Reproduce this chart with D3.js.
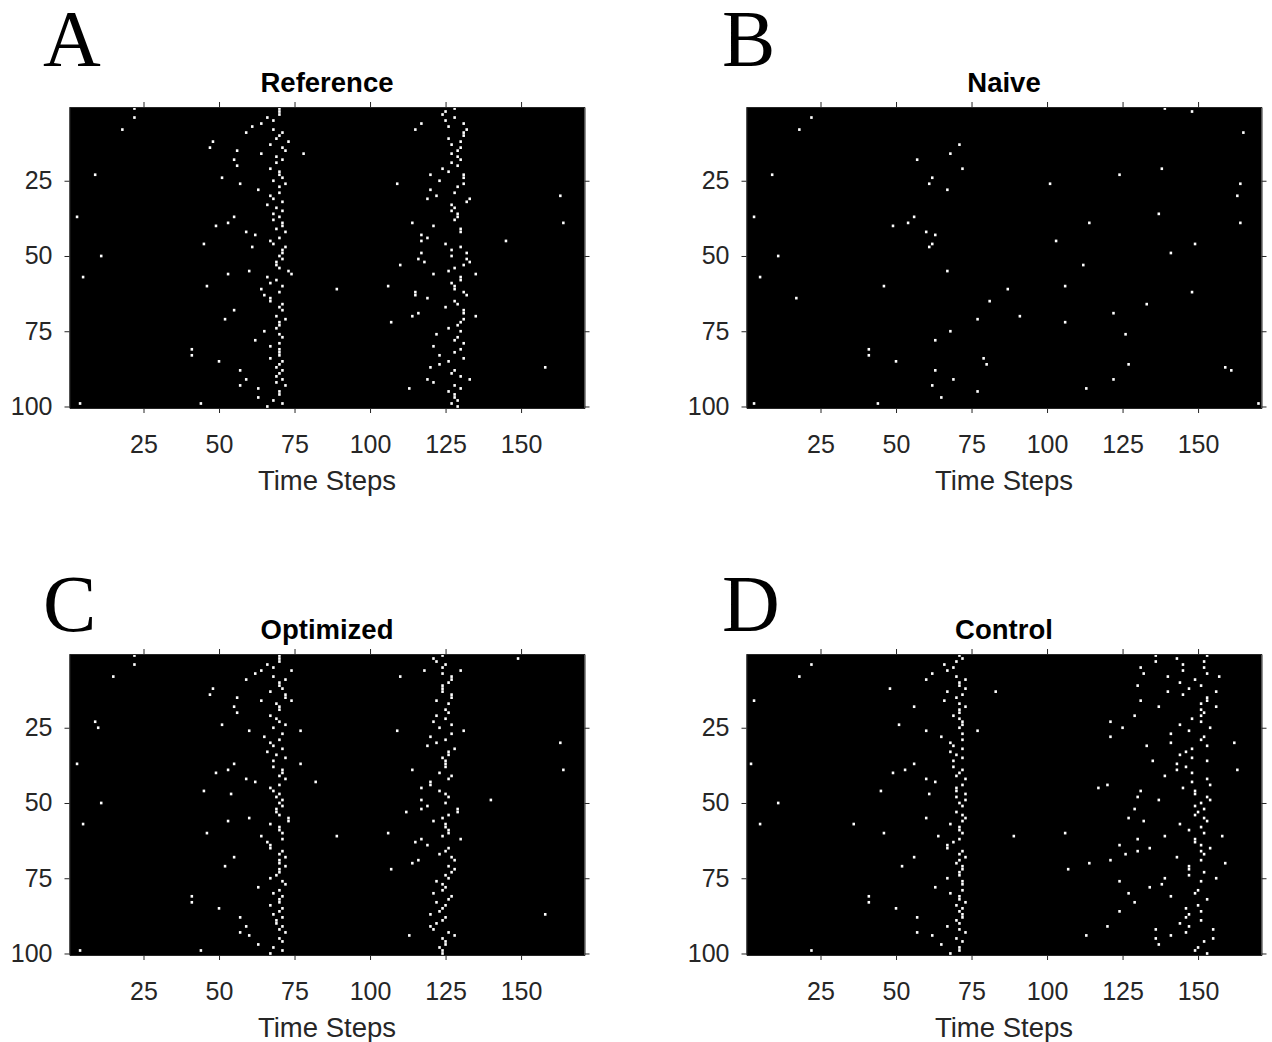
<!DOCTYPE html>
<html>
<head>
<meta charset="utf-8">
<script src="https://cdn.jsdelivr.net/npm/d3@7"></script>
<style>
body { margin: 0; background: #fff; }
svg text { font-family: "Liberation Sans", Arial, sans-serif; }
</style>
</head>
<body>
<svg id="chart"></svg>
<script>

// panel text
const panelLetters = ["A", "B", "C", "D"];
const panelTitles = ["Reference", "Naive", "Optimized", "Control"];
const xLabel = "Time Steps";
const xTicks = [25, 50, 75, 100, 125, 150];
const yTicks = [25, 50, 75, 100];

const referenceSpikes = [
  [22,1],[22,4],[18,8],[9,23],[3,37],[11,50],[5,57],[4,99],
  [48,12],[47,14],[56,15],[55,18],[56,20],[51,24],[57,26],[55,37],[53,39],[49,40],[45,46],[59,42],[62,43],[61,47],
  [53,56],[60,55],[46,60],[55,68],[52,71],[41,81],[41,83],[50,85],[57,88],[59,91],[57,93],[63,94],[63,97],[44,99],[66,100],
  [59,9],[61,7],[64,6],[66,4],[68,5],[68,8],[70,1],[70,2],[70,3],[71,9],[70,10],[69,11],[73,12],[67,13],[71,14],[72,15],
  [64,16],[69,17],[71,18],[69,19],[67,21],[70,22],[70,23],[71,24],[68,25],[72,26],[70,27],[63,28],[70,29],[67,30],[68,31],
  [71,32],[66,33],[69,34],[71,35],[68,36],[70,37],[68,38],[71,39],[71,40],[69,41],[72,42],[70,44],[67,45],[68,46],[72,47],
  [71,48],[71,49],[70,50],[71,51],[69,52],[69,53],[70,54],[73,55],[74,56],[66,57],[69,58],[67,59],[71,60],[64,61],[70,62],
  [65,63],[67,64],[67,65],[71,66],[70,67],[71,68],[69,70],[72,71],[70,72],[70,73],[69,74],[65,75],[70,76],[71,77],[62,78],
  [70,79],[67,80],[70,81],[70,82],[70,83],[67,84],[71,85],[70,86],[69,87],[71,88],[70,89],[69,90],[71,91],[69,92],[72,93],
  [70,95],[70,96],[68,98],[71,99],
  [78,16],[89,61],[109,26],[110,53],[106,60],[107,72],[113,94],[114,39],[115,8],[117,6],[115,62],[115,63],[114,70],[116,69],
  [117,43],[117,45],[119,44],[117,49],[116,51],[118,52],[120,23],[120,28],[119,31],[122,30],[123,25],[121,40],[121,56],
  [119,64],[122,76],[121,80],[123,83],[123,86],[120,87],[119,91],[121,92],[124,21],[126,22],[125,46],[126,55],[125,67],
  [126,74],[126,85],[126,95],
  [124,3],[125,2],[128,1],[128,4],[125,5],[126,7],[131,6],[132,8],[131,9],[131,10],[126,11],[130,12],[127,13],[130,14],
  [129,15],[127,16],[129,17],[130,18],[127,19],[129,20],[131,23],[131,24],[131,26],[129,27],[128,29],[133,31],[132,32],
  [127,33],[128,34],[127,35],[129,36],[129,37],[128,38],[130,41],[130,42],[130,47],[127,48],[132,49],[127,50],[132,51],
  [133,52],[131,53],[128,54],[135,56],[130,57],[130,58],[127,59],[128,60],[128,61],[131,62],[132,63],[128,65],[129,66],
  [131,68],[131,69],[135,70],[131,71],[130,72],[129,73],[130,75],[129,77],[128,78],[131,79],[130,81],[128,82],[131,84],
  [128,88],[127,89],[130,90],[133,91],[128,93],[130,94],[128,96],[128,97],[129,98],[127,99],[129,100],
  [145,45],[163,30],[164,39],[158,87]
];

const naiveSpikes = [
  [22,4],[18,8],[9,23],[3,37],[11,50],[5,57],[17,64],[3,99],[44,99],[41,81],[41,83],[50,85],[46,60],[49,40],[54,39],
  [56,37],[60,42],[63,43],[62,46],[61,47],[57,18],[62,24],[61,26],[67,28],[68,16],[71,13],[72,21],[67,55],[63,78],[68,75],
  [63,88],[62,93],[69,91],[65,97],[77,71],[77,95],
  [81,65],[79,84],[80,86],[87,61],[91,70],[101,26],[103,45],[106,60],[106,72],[112,53],[114,39],[113,94],[122,69],[122,91],
  [126,76],[127,86],[133,66],[124,23],[138,21],[137,36],[141,49],[139,1],[148,2],[149,46],[148,62],[159,87],[161,88],
  [165,9],[164,26],[163,30],[164,39],[170,99]
];

const optimizedSpikes = [
  [22,1],[22,4],[15,8],[9,23],[10,25],[3,37],[11,50],[5,57],[4,99],[44,99],[41,81],[41,83],[50,85],
  [48,12],[47,14],[56,15],[55,18],[56,20],[51,24],[60,26],[55,37],[53,39],[49,40],[45,46],[54,47],[59,42],[62,43],[53,56],
  [60,55],[46,60],[55,68],[52,71],[57,88],[59,91],[57,93],[60,94],[63,78],[63,97],[67,100],[68,98],[71,99],
  [59,9],[62,7],[64,6],[66,4],[68,5],[68,8],[70,1],[70,2],[70,3],[74,6],[72,9],[70,10],[70,11],[71,12],[67,13],[72,14],
  [72,15],[64,16],[74,16],[69,17],[70,18],[70,19],[67,21],[69,22],[70,23],[72,24],[68,25],[77,26],[71,27],[65,28],[70,29],
  [67,30],[68,31],[71,32],[66,33],[69,34],[72,35],[68,36],[77,37],[68,38],[71,39],[71,40],[70,41],[72,42],[70,44],[67,45],
  [68,46],[70,47],[69,48],[71,49],[70,50],[71,51],[69,52],[69,53],[70,54],[73,55],[73,56],[67,57],[70,58],[70,59],[71,60],
  [64,61],[71,62],[66,63],[67,64],[67,65],[71,66],[70,67],[72,68],[70,69],[70,70],[72,71],[70,72],[70,73],[69,74],[67,75],
  [71,76],[72,77],[70,79],[68,80],[71,81],[70,82],[70,83],[67,84],[71,85],[70,86],[68,87],[71,88],[69,89],[69,90],[71,91],
  [70,92],[72,93],[70,95],[71,96],
  [82,43],[89,61],[109,26],[110,8],[106,60],[107,72],[113,94],[112,53],[114,39],[115,63],[117,62],[114,70],[116,69],
  [117,45],[117,49],[117,52],[119,51],[118,6],[119,64],[120,28],[119,31],[122,30],[120,43],[120,44],[121,56],[123,25],
  [121,23],[122,21],[122,16],[121,2],[122,3],[124,1],[125,4],[124,5],[124,7],[127,8],[127,9],[126,10],[124,11],[124,12],
  [124,13],[127,14],[127,15],[126,17],[125,19],[126,20],[125,22],[127,24],[131,26],[127,27],[125,29],[128,32],[126,33],
  [126,34],[124,35],[125,36],[125,37],[125,38],[123,40],[127,41],[126,42],[123,46],[125,47],[126,48],[125,50],[129,52],
  [129,53],[126,54],[124,55],[125,57],[125,58],[126,59],[126,60],[124,61],[130,62],[126,65],[125,66],[123,67],[127,68],
  [128,69],[126,71],[128,72],[127,73],[125,74],[126,75],[122,76],[124,77],[125,78],[124,79],[121,80],[127,81],[126,82],
  [122,83],[125,84],[124,85],[123,86],[120,87],[125,88],[124,89],[122,90],[120,91],[121,92],[126,93],[128,94],[124,95],
  [125,96],[125,97],[123,98],[124,99],[124,100],[130,6],[140,49],[149,2],[163,30],[164,39],[158,87]
];

const controlSpikes = [
  [22,4],[18,8],[3,16],[2,37],[11,50],[5,57],[36,57],[22,99],[41,81],[41,83],[50,85],[46,60],[49,40],[53,39],[56,37],
  [45,46],[48,12],[56,18],[51,24],[60,26],[60,42],[63,43],[61,47],[60,55],[64,61],[56,68],[52,71],[63,78],[57,88],[57,93],
  [62,94],[65,97],[68,100],
  [60,9],[62,7],[66,4],[67,6],[69,5],[70,3],[71,1],[72,2],[70,8],[73,9],[71,10],[71,11],[73,12],[67,13],[72,14],[70,15],
  [66,16],[71,17],[73,18],[71,19],[71,20],[69,21],[71,22],[72,23],[72,24],[71,25],[77,26],[72,27],[65,28],[72,29],[68,30],
  [69,31],[72,32],[68,33],[70,34],[72,35],[69,36],[69,38],[72,39],[71,40],[70,41],[73,42],[72,44],[70,45],[70,46],[73,47],
  [70,48],[73,49],[71,50],[72,51],[70,53],[72,54],[73,55],[72,56],[68,57],[71,58],[71,59],[72,60],[71,62],[69,63],[67,64],
  [67,65],[72,66],[71,67],[73,68],[71,69],[70,70],[72,71],[72,72],[71,73],[71,74],[67,75],[72,76],[72,77],[72,79],[68,80],
  [71,81],[71,82],[73,83],[70,84],[72,85],[71,86],[72,87],[72,88],[70,89],[71,90],[67,91],[71,92],[73,93],[70,95],[72,96],
  [71,98],[71,99],
  [83,13],[89,61],[106,60],[107,72],[113,94],[114,70],[117,45],[120,44],[121,23],[121,28],[125,25],[121,69],[120,91],
  [124,64],[126,67],[124,76],[127,80],[129,83],[124,86],[127,55],[129,52],[130,48],[131,46],[132,56],[130,62],[130,66],
  [134,65],[134,78],[129,21],[130,11],[131,16],[131,5],[132,7],[133,31],[135,36],[136,1],[136,3],[137,18],[137,49],
  [139,41],[139,61],[139,75],[138,77],[136,92],[136,95],[137,97],[141,94],[141,81],[140,8],[140,13],[141,27],[141,30],
  [143,2],[145,4],[145,6],[144,10],[147,12],[145,14],[144,24],[147,26],[144,34],[146,33],[143,37],[143,39],[146,38],
  [148,32],[148,35],[148,40],[148,43],[145,45],[148,22],[149,9],[151,11],[152,3],[152,5],[153,1],[153,7],[157,8],[156,13],
  [153,15],[153,16],[156,18],[151,17],[151,19],[152,20],[151,21],[151,23],[154,25],[152,28],[151,29],[153,31],[162,30],
  [153,36],[163,39],[153,42],[154,44],[149,46],[149,47],[153,48],[154,49],[151,50],[149,51],[150,53],[152,52],[149,54],
  [152,55],[153,56],[144,57],[151,58],[147,59],[152,60],[158,61],[149,62],[149,63],[151,64],[154,65],[151,66],[152,67],
  [143,68],[151,69],[159,70],[147,71],[147,72],[152,73],[147,74],[156,75],[151,76],[150,79],[149,80],[153,82],[150,84],
  [146,85],[151,86],[147,87],[146,88],[151,89],[144,90],[147,91],[155,92],[146,93],[155,95],[152,96],[150,98],[149,99],
  [153,100]
];

const spikeSets = [referenceSpikes, naiveSpikes, optimizedSpikes, controlSpikes];

const width = 1272, height = 1042;
const plotW = 515, plotH = 301;
// top-left of each plot box, and where the panel letters sit
const origins = [[69.5, 107], [746.5, 107], [69.5, 654], [746.5, 654]];
const letterPos = [[43, 66], [722, 66], [43, 631], [722, 631]];

const svg = d3.select("#chart")
  .attr("width", width)
  .attr("height", height);

svg.append("rect").attr("width", width).attr("height", height).attr("fill", "#fff");

const x = d3.scaleLinear().domain([0.5, 171]).range([0, plotW]);
const y = d3.scaleLinear().domain([0.5, 100.5]).range([0, plotH]);
const cw = x(1) - x(0), ch = y(1) - y(0);

const axisColor = "#262626";

panelTitles.forEach(function(title, i) {
  const [ox, oy] = origins[i];
  const g = svg.append("g").attr("transform", "translate(" + ox + "," + oy + ")");

  g.append("rect")
    .attr("width", plotW)
    .attr("height", plotH)
    .attr("fill", "#000");

  g.append("g").selectAll("rect")
    .data(spikeSets[i])
    .enter().append("rect")
      .attr("x", d => x(d[0]) - cw * 0.42)
      .attr("y", d => y(d[1]) - ch * 0.45)
      .attr("width", cw * 0.84)
      .attr("height", ch * 0.9)
      .attr("fill", "#fff");

  // ticks point outward on all four sides (box on)
  const bottom = g.append("g").attr("transform", "translate(0," + plotH + ")")
    .call(d3.axisBottom(x).tickValues(xTicks).tickSize(5).tickSizeOuter(0).tickPadding(22));
  const top = g.append("g")
    .call(d3.axisTop(x).tickValues(xTicks).tickSize(5).tickSizeOuter(0).tickFormat(""));
  const left = g.append("g")
    .call(d3.axisLeft(y).tickValues(yTicks).tickSize(5).tickSizeOuter(0).tickPadding(12));
  const right = g.append("g").attr("transform", "translate(" + plotW + ",0)")
    .call(d3.axisRight(y).tickValues(yTicks).tickSize(5).tickSizeOuter(0).tickFormat(""));

  [bottom, top, left, right].forEach(function(a) {
    a.select(".domain").attr("stroke", axisColor);
    a.selectAll(".tick line").attr("stroke", axisColor);
    a.selectAll(".tick text")
      .attr("fill", axisColor)
      .style("font-family", "'Liberation Sans', Arial, sans-serif")
      .style("font-size", "25px");
  });

  g.append("text")
    .attr("x", plotW / 2)
    .attr("y", -15)
    .attr("text-anchor", "middle")
    .style("font-size", "27.5px")
    .style("font-weight", "bold")
    .attr("fill", "#000")
    .text(title);

  g.append("text")
    .attr("x", plotW / 2)
    .attr("y", plotH + 82)
    .attr("text-anchor", "middle")
    .style("font-size", "27.5px")
    .attr("fill", axisColor)
    .text(xLabel);

  svg.append("text")
    .attr("x", letterPos[i][0])
    .attr("y", letterPos[i][1])
    .style("font-family", "'Liberation Serif', 'Times New Roman', serif")
    .style("font-size", "80px")
    .attr("fill", "#000")
    .text(panelLetters[i]);
});

</script>
</body>
</html>
